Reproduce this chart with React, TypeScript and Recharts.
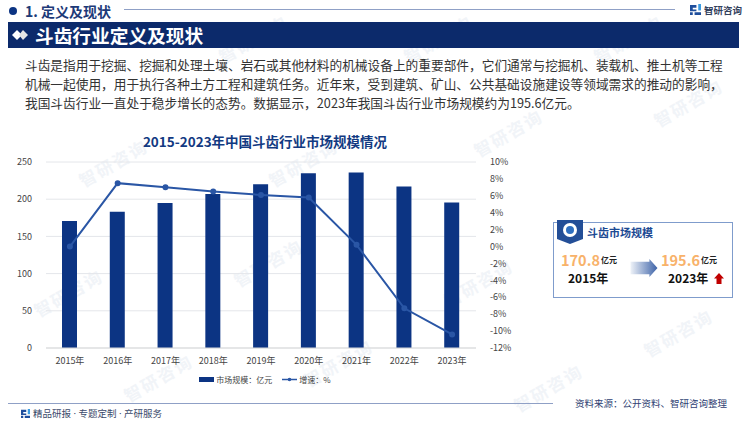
import React from 'react';
import { ComposedChart, Bar, Line, XAxis, YAxis, CartesianGrid, Legend } from 'recharts';

const categories = ['2015年', '2016年', '2017年', '2018年', '2019年', '2020年', '2021年', '2022年', '2023年'];
const marketSize = [170.8, 183, 195, 207, 220, 235, 236, 217, 195.6];
const growth = [0, 7.5, 7.0, 6.5, 6.1, 5.8, 0.2, -7.3, -10.4];
const leftTicks = [0, 50, 100, 150, 200, 250];
const rightTicks = [-12, -10, -8, -6, -4, -2, 0, 2, 4, 6, 8, 10];
const bodyLines = [
  '斗齿是指用于挖掘、挖掘和处理土壤、岩石或其他材料的机械设备上的重要部件，它们通常与挖掘机、装载机、推土机等工程',
  '机械一起使用，用于执行各种土方工程和建筑任务。近年来，受到建筑、矿山、公共基础设施建设等领域需求的推动的影响，',
  '我国斗齿行业一直处于稳步增长的态势。数据显示，2023年我国斗齿行业市场规模约为195.6亿元。',
];
const watermarks = [
  [215, 26], [400, 26], [590, 26], [75, 150], [265, 150], [470, 120], [650, 90],
  [120, 365], [300, 350], [510, 375], [640, 320], [230, 250], [30, 280], [440, 270],
];

const rows = categories.map((c, i) => ({ name: c, size: marketSize[i], rate: growth[i] }));
const FONT = '"Noto Sans CJK SC", "Noto Sans", sans-serif';
const NAVY = '#0c3483';
const abs = (left: number, top: number, extra: React.CSSProperties = {}): React.CSSProperties => ({
  position: 'absolute', left, top, whiteSpace: 'nowrap', ...extra,
});

function Logo({ x, y, s }: { x: number; y: number; s: number }) {
  return (
    <svg style={abs(x, y)} width={s} height={s} viewBox="0 0 12 12">
      <path d="M0 1H7V4H3V6H7V8H0Z" fill="#1f4e9c" />
      <path d="M9 0H12V7H9Z" fill="#3b9be0" />
      <path d="M0 9H3V12H0ZM5 9H12V12H5Z" fill="#1f4e9c" />
    </svg>
  );
}

function LegendBody({ payload }: any) {
  return (
    <div style={{ display: 'flex', justifyContent: 'center', alignItems: 'center', height: 17, fontSize: 8, color: '#444', fontFamily: FONT }}>
      {(payload || []).map((p: any, i: number) => (
        <span key={i} style={{ display: 'inline-flex', alignItems: 'center', marginLeft: i ? 10 : 0 }}>
          <svg width={15} height={7} style={{ marginRight: 2 }}>
            {p.type === 'rect'
              ? <rect x={0} y={1} width={15} height={5} fill={p.color} />
              : <g><line x1={0} x2={15} y1={3.5} y2={3.5} stroke={p.color} strokeWidth={1.5} /><circle cx={7.5} cy={3.5} r={1.8} fill={p.color} /></g>}
          </svg>
          {p.value}
        </span>
      ))}
    </div>
  );
}

export default function App() {
  return (
    <div style={{ position: 'absolute', left: 0, top: 0, width: 750, height: 421, background: '#fff', overflow: 'hidden', fontFamily: FONT }}>
      {watermarks.map(([x, y], i) => (
        <div key={i} style={abs(x, y, { fontSize: 17, color: '#f1f4f8', letterSpacing: 2, transform: 'rotate(-30deg)', fontWeight: 700 })}>智研咨询</div>
      ))}

      <div style={abs(9, 7, { width: 8, height: 8, borderRadius: 4, background: NAVY })} />
      <div style={abs(25, 1, { fontSize: 14, fontWeight: 700, color: '#1d3a78', lineHeight: '20px' })}>1. 定义及现状</div>
      <div style={abs(124, 9, { width: 551, height: 1, background: '#8fa0c6' })} />
      <Logo x={690} y={4} s={11} />
      <div style={abs(704, 1, { fontSize: 9.5, fontWeight: 700, color: '#33415c', lineHeight: '18px' })}>智研咨询</div>

      <div style={abs(8, 22, { width: 731, height: 26, background: '#0c2a6b' })} />
      <svg style={abs(12, 29)} width={17} height={12} viewBox="0 0 17 12">
        <path d="M5 1L10 6L5 11L0 6Z" fill="#fff" />
        <path d="M11 1L16 6L11 11L7 6Z" fill="#e6e6e6" />
      </svg>
      <div style={abs(35, 21, { fontSize: 18.7, fontWeight: 700, color: '#fff', lineHeight: '27px' })}>斗齿行业定义及现状</div>

      {bodyLines.map((t, i) => (
        <div key={i} style={abs(25, 55 + i * 19, { fontSize: 12.7, color: '#333', lineHeight: '19px' })}>{t}</div>
      ))}

      <div style={abs(0, 131, { width: 530, textAlign: 'center', fontSize: 13.5, fontWeight: 700, color: '#123a82', lineHeight: '20px' })}>
        2015-2023年中国斗齿行业市场规模情况
      </div>

      <div style={abs(0, 150)}>
        <ComposedChart width={530} height={245} data={rows} margin={{ top: 12, right: 0, bottom: 0, left: 0 }}>
          <CartesianGrid vertical={false} stroke="#e4e6ea" yAxisId="l" />
          <XAxis dataKey="name" height={30} axisLine={{ stroke: '#d9d9d9' }} tickLine={false} tick={{ fontSize: 9, fill: '#444', fontFamily: FONT }} tickMargin={4} interval={0} />
          <YAxis yAxisId="l" width={46} domain={[0, 250]} ticks={leftTicks} axisLine={false} tickLine={false} tick={{ fontSize: 9, fill: '#444', fontFamily: FONT }} orientation="left" tickMargin={8} />
          <YAxis yAxisId="r" width={54} domain={[-12, 10]} ticks={rightTicks} orientation="right" axisLine={false} tickLine={false} interval={0} tickFormatter={(v: number) => `${v}%`} tick={{ fontSize: 9, fill: '#444', fontFamily: FONT }} tickMargin={8} />
          <Bar yAxisId="l" dataKey="size" name="市场规模：亿元" fill="#0c3483" barSize={15} isAnimationActive={false} legendType="rect" />
          <Line yAxisId="r" dataKey="rate" name="增速：%" stroke="#2a56a5" strokeWidth={2} dot={{ r: 2, fill: '#2a56a5', stroke: '#2a56a5' }} isAnimationActive={false} legendType="plainline" />
          <Legend verticalAlign="bottom" itemSorter={null} content={LegendBody} wrapperStyle={{ left: 100, width: 330, top: 221 }} />
        </ComposedChart>
      </div>

      {/* side card */}
      <div style={abs(553, 222, { width: 178, height: 74, border: '1px solid #7f9ccc', boxSizing: 'content-box' })} />
      <svg style={abs(557, 220)} width={26} height={24} viewBox="0 0 26 24">
        <path d="M0 0H26V19L13 24L0 19Z" fill="#234e97" />
        <circle cx="13" cy="10" r="7" fill="#fff" />
        <circle cx="13" cy="10" r="4" fill="#2f6fc0" />
      </svg>
      <div style={abs(587, 222, { fontSize: 11, fontWeight: 700, color: '#1d4a93', lineHeight: '20px' })}>斗齿市场规模</div>
      <div style={abs(561, 249, { fontSize: 14.5, fontWeight: 700, color: '#f8b26a', lineHeight: '22px' })}>170.8</div>
      <div style={abs(601, 253, { fontSize: 8, fontWeight: 700, color: '#222', lineHeight: '14px' })}>亿元</div>
      <div style={abs(568, 268, { fontSize: 12, fontWeight: 700, color: '#111', lineHeight: '20px' })}>2015年</div>
      <svg style={abs(630, 259)} width={28} height={18} viewBox="0 0 30 20">
        <defs>
          <linearGradient id="arrowFill" x1="0" x2="1" y1="0" y2="0">
            <stop offset="0" stopColor="#eef2f8" />
            <stop offset="1" stopColor="#3d63a8" />
          </linearGradient>
        </defs>
        <path d="M0 3H21V0L30 10L21 20V17H0Z" fill="url(#arrowFill)" />
      </svg>
      <div style={abs(661, 249, { fontSize: 14.5, fontWeight: 700, color: '#f8b26a', lineHeight: '22px' })}>195.6</div>
      <div style={abs(701, 253, { fontSize: 8, fontWeight: 700, color: '#222', lineHeight: '14px' })}>亿元</div>
      <div style={abs(668, 268, { fontSize: 12, fontWeight: 700, color: '#111', lineHeight: '20px' })}>2023年</div>
      <svg style={abs(714, 273)} width={10} height={11} viewBox="0 0 10 11">
        <path d="M5 0L10 5.5H7.5V11H2.5V5.5H0Z" fill="#c00000" />
      </svg>

      {/* footer */}
      <div style={abs(8, 403, { width: 545, height: 1, background: '#8fa0c6' })} />
      <Logo x={21} y={409} s={9} />
      <div style={abs(33, 406, { fontSize: 9.5, color: '#3b4a6b', lineHeight: '15px' })}>
        精品研报<span style={{ fontFamily: '"Noto Sans"' }}> · </span>专题定制<span style={{ fontFamily: '"Noto Sans"' }}> · </span>产研服务
      </div>
      <div style={abs(575, 396, { fontSize: 9.5, color: '#2f3f73', lineHeight: '15px' })}>资料来源：公开资料、智研咨询整理</div>
    </div>
  );
}
